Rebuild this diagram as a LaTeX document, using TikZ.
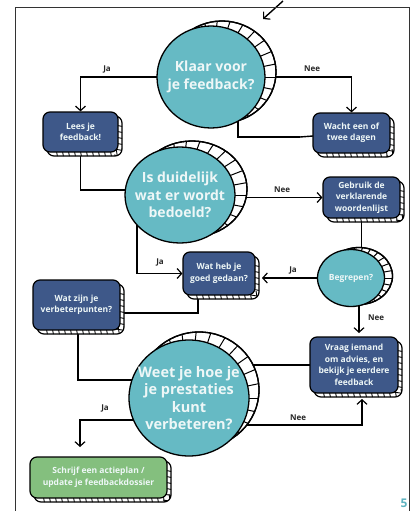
\documentclass[tikz,border=0pt]{standalone}
\usepackage{fontspec}
\setmainfont{Open Sans}
\usetikzlibrary{arrows.meta,shapes.geometric,backgrounds,calc}

\definecolor{coinfill}{HTML}{66BAC4}
\definecolor{boxblue}{HTML}{3E5889}
\definecolor{boxgreen}{HTML}{84BF7E}
\definecolor{facetext}{HTML}{EEF7F7}
\definecolor{pagenum}{HTML}{5FB3C0}
\definecolor{framecol}{HTML}{333333}

\tikzset{
  rimline/.style={line width=1.1pt, black},
  coinface/.style={ellipse, draw, line width=1.3pt, fill=coinfill, inner sep=0pt},
  cointext/.style={text=facetext, font=\bfseries\fontsize{14}{17.5}\selectfont, align=center, inner sep=0pt},
  stepbox/.style={rectangle, rounded corners=7pt, draw, line width=1.2pt, inner sep=0pt,
    text=facetext, font=\bfseries\fontsize{8.5}{11.5}\selectfont, align=center},
  link/.style={line width=1.4pt, black},
  arrowlink/.style={link, -{Straight Barb[length=4.5pt,width=10pt,line width=1.2pt]}},
  answer/.style={font=\bfseries\fontsize{8}{9}\selectfont, text=black!85},
}

% coin: name, x, y, x-radius, y-radius, rim dx, rim dy, text style, text
\newcommand\coin[9]{%
  \draw[rimline, line width=1.3pt, fill=white] ({#2+#6},{#3+#7}) ellipse [x radius=#4pt, y radius=#5pt];
  \begin{scope}
    \clip ({#2+#6},{#3+#7}) ellipse [x radius=#4pt, y radius=#5pt];
    \foreach \a in {0,12,...,359}
      \draw[rimline, line width=1pt] (#2,#3) -- ({#2+1.6*#4*cos(\a)},{#3+1.6*#5*sin(\a)});
  \end{scope}
  \draw[rimline, line width=1.3pt] ({#2+#6},{#3+#7}) ellipse [x radius=#4pt, y radius=#5pt];
  \node[coinface, minimum width=2*#4pt, minimum height=2*#5pt] (#1) at (#2,#3) {};
  \node[cointext, #8] (#1-text) at (#2,#3) {#9};
}

% box with a striped rim: name, x, y, width, height, fill colour, text
\newcommand\rimbox[7]{%
  \pgfmathsetmacro\rbl{#2-#4/2+4}\pgfmathsetmacro\rbr{#2+#4/2+4}%
  \pgfmathsetmacro\rbt{#3-#5/2+4}\pgfmathsetmacro\rbb{#3+#5/2+4}%
  \draw[rimline, line width=1.2pt, fill=white, rounded corners=7pt] (\rbl,\rbt) rectangle (\rbr,\rbb);
  \begin{scope}
    \clip[rounded corners=7pt] (\rbl,\rbt) rectangle (\rbr,\rbb);
    \pgfmathsetmacro\rya{\rbt+9}\pgfmathsetmacro\ryb{\rbt+15}%
    \foreach \yy in {\rya,\ryb,...,\rbb} \draw[rimline, line width=0.9pt] ({\rbr-8},\yy) -- ({\rbr+1},{\yy+1.5});
    \pgfmathsetmacro\rxa{\rbl+9}\pgfmathsetmacro\rxb{\rbl+15}%
    \foreach \xx in {\rxa,\rxb,...,\rbr} \draw[rimline, line width=0.9pt] (\xx,{\rbb-8}) -- ({\xx+1.5},{\rbb+1});
  \end{scope}
  \node[stepbox, fill=#6, minimum width=#4pt, minimum height=#5pt] (#1) at (#2,#3) {#7};
}

\begin{document}
\begin{tikzpicture}[x=1pt, y=-1pt]
  \useasboundingbox (0,0) rectangle (414,511);

  % page frame
  \draw[framecol, line width=0.9pt] (15,511) -- (15,7) -- (409,7) -- (409,511);

  % decisions
  \coin{c1}{211}{77}{54}{51}{11}{-5}{}{Klaar voor\\je feedback?}
  \coin{c2}{180}{195}{55}{48}{12}{-6}{}{Is duidelijk\\wat er wordt\\bedoeld?}
  \coin{beg}{351}{278}{33.5}{28.5}{8}{-2}{font=\bfseries\fontsize{8.5}{10}\selectfont}{Begrepen?}
  \coin{c3}{189}{398}{60}{58}{10}{-8}{font=\bfseries\fontsize{14.5}{17.5}\selectfont}{Weet je hoe je\\je prestaties\\kunt\\verbeteren?}

  % steps
  \rimbox{lees}{80.5}{132}{75}{40}{boxblue}{Lees je\\feedback!}
  \rimbox{wacht}{351.5}{133}{77}{40}{boxblue}{Wacht een of\\twee dagen}
  \rimbox{gebruik}{361.5}{197.5}{77}{41}{boxblue}{Gebruik de\\verklarende\\woordenlijst}
  \rimbox{wat}{219}{273.5}{72}{43}{boxblue}{Wat heb je\\goed gedaan?}
  \rimbox{zijn}{76.5}{305}{87}{50}{boxblue}{Wat zijn je\\verbeterpunten?}
  \rimbox{vraag}{354}{365}{88}{56}{boxblue}{Vraag iemand\\om advies, en\\bekijk je eerdere\\feedback}
  \rimbox{schrijf}{98.5}{477.5}{137}{41}{boxgreen}{Schrijf een actieplan /\\update je feedbackdossier}

  % helper points for the connectors
  \coordinate (topin) at (283,1);
  \coordinate (topend) at (263,19);
  \coordinate (waitback) at (300,137);
  \coordinate (c1low) at (238,100);
  \coordinate (leesin) at (150,190);
  \coordinate (c2ja) at (137,205);
  \coordinate (watrim) at (262,280);
  \coordinate (watdrop) at (198,285);
  \coordinate (zijnin) at (100,313);
  \coordinate (zijndrop) at (78,320);
  \coordinate (c3in) at (160,380);
  \coordinate (begdrop) at (359,290);
  \coordinate (vraagtop) at (359,333);
  \coordinate (c3nee) at (200,425);
  \coordinate (vraagrim) at (362,399);
  \coordinate (c3ja) at (170,420);
  \coordinate (schrijfin) at (80,447);

  \begin{pgfonlayer}{background}
    \draw[arrowlink] (topin) -- (topend);
    \draw[arrowlink] (c1.center) -| (lees.north);
    \draw[arrowlink] (c1.center) -| (wacht.north);
    \draw[link] (waitback) -| (c1low);
    \draw[link] (wacht.center) -- (waitback);
    \draw[link] (lees.center) |- (leesin);
    \draw[arrowlink] (c2.center |- gebruik.west) -- (gebruik.west);
    \draw[link] (gebruik.center) -- (gebruik.center |- beg.center);
    \draw[arrowlink] (beg.center) -- (beg.center -| watrim);
    \draw[arrowlink] (c2ja) |- (wat.west);
    \draw[link] (watdrop) |- (zijnin);
    \draw[link] (zijndrop) |- (c3in);
    \draw[arrowlink] (begdrop) -- (vraagtop);
    \draw[link] (vraag.center) -- (vraag.center -| c3.center);
    \draw[arrowlink] (c3nee) -| (vraagrim);
    \draw[arrowlink] (c3ja) -| (schrijfin);
  \end{pgfonlayer}

  % answers
  \node[answer] (a1) at (107,69) {Ja};
  \node[answer] (a2) at (312,69) {Nee};
  \node[answer] (a3) at (282,190) {Nee};
  \node[answer] (a4) at (160,262) {Ja};
  \node[answer] (a5) at (293,270) {Ja};
  \node[answer] (a6) at (376,318) {Nee};
  \node[answer] (a7) at (105,408) {Ja};
  \node[answer] (a8) at (298,418) {Nee};

  % page number
  \node[text=pagenum, font=\bfseries\fontsize{12}{12}\selectfont] (pg) at (404,503) {5};
\end{tikzpicture}
\end{document}
